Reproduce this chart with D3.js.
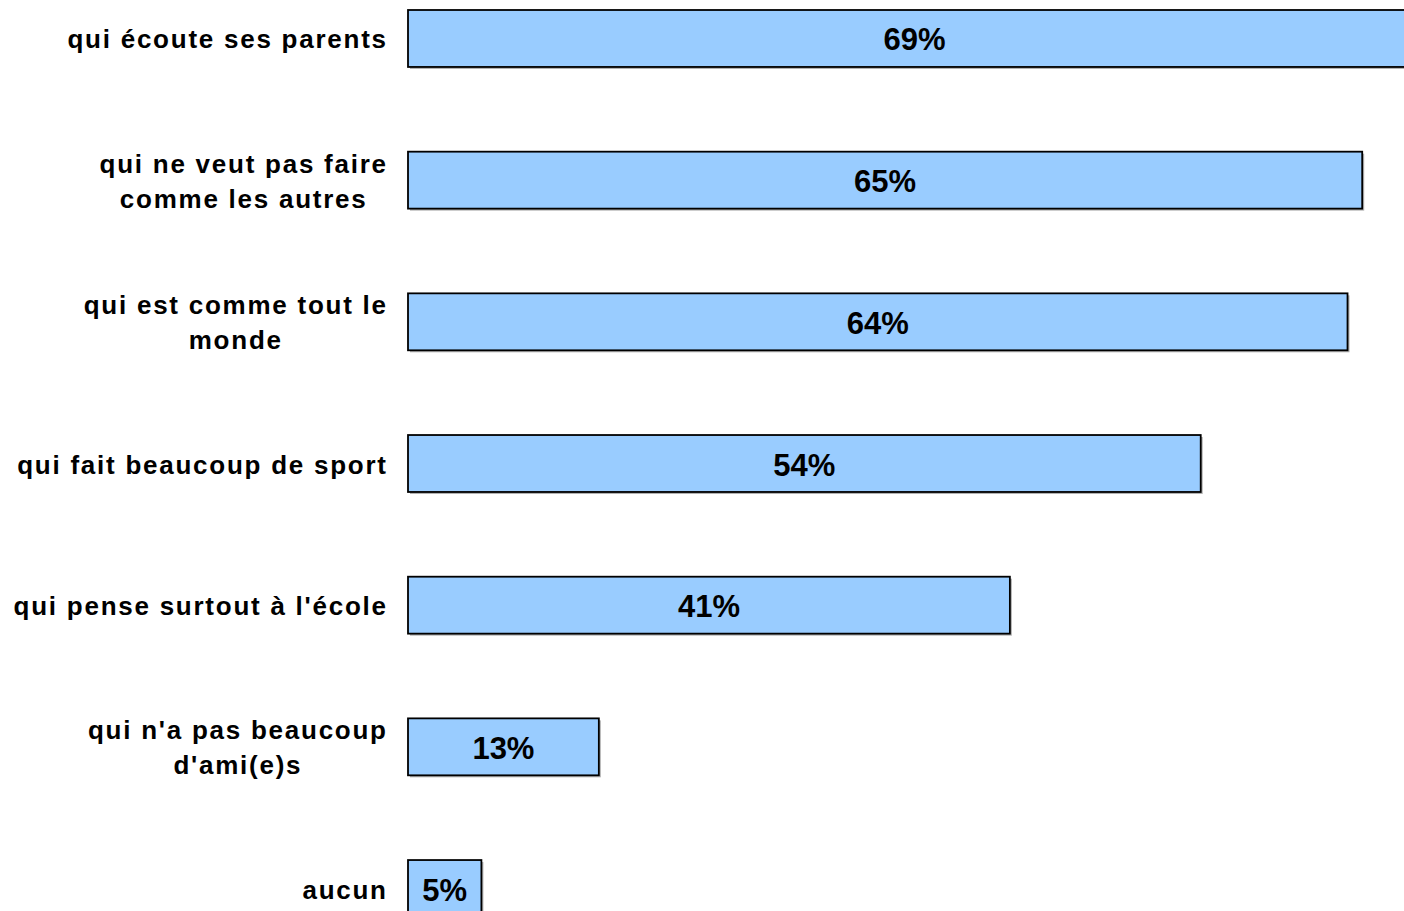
<html>
<head>
  <meta charset="utf-8">
  <title>Bar chart</title>
  <style>
    body{
      margin: 0;
      background: #fff;
      overflow: hidden;
    }
    text{
      font-family: "Liberation Sans", Arial, sans-serif;
      font-weight: bold;
      fill: #000;
    }
  </style>
  <script src="https://d3js.org/d3.v7.min.js"></script>
</head>
<body>
  <div id="container"></div>
  <script>
    //*******DATA*******
    const categories = [
      ["qui écoute ses parents"],
      ["qui ne veut pas faire", "comme les autres"],
      ["qui est comme tout le", "monde"],
      ["qui fait beaucoup de sport"],
      ["qui pense surtout à l'école"],
      ["qui n'a pas beaucoup", "d'ami(e)s"],
      ["aucun"]
    ];
    const values = [69, 65, 64, 54, 41, 13, 5];

    //*******CONSTANTS*******
    const width = 1404,
          height = 911;
    const labelRight = 386,
          letterSpace = 1.75,
          lineGap = 35;

    var svg = d3.select("#container")
      .append("svg")
      .attr("width", width)
      .attr("height", height)
      .style("display", "block");

    var keys = categories.map(function(c){ return c.join(" "); });

    // x: 0% sits at 408px, ~14.68px per percent
    var x = d3.scaleLinear()
      .domain([0, 100])
      .range([408, 1876]);

    var y = d3.scaleBand()
      .domain(keys)
      .range([10, 917])
      .paddingInner(0.598)
      .paddingOuter(0);

    var rows = svg.selectAll("g.row")
      .data(values)
      .enter()
      .append("g")
      .attr("class", "row");

    // light shadow behind each bar
    rows.append("rect")
      .attr("x", x(0) + 2)
      .attr("y", function(d, i){ return y(keys[i]) + 2; })
      .attr("width", function(d){ return x(d) - x(0); })
      .attr("height", y.bandwidth())
      .attr("fill", "#b0b0b0");

    rows.append("rect")
      .attr("x", x(0))
      .attr("y", function(d, i){ return y(keys[i]); })
      .attr("width", function(d){ return x(d) - x(0); })
      .attr("height", y.bandwidth())
      .attr("fill", "#99ccff")
      .attr("stroke", "#000")
      .attr("stroke-width", 1.8);

    // value labels in the middle of the bar
    rows.append("text")
      .attr("x", function(d){ return (x(0) + x(d)) / 2; })
      .attr("y", function(d, i){ return y(keys[i]) + y.bandwidth() / 2 + 12; })
      .attr("text-anchor", "middle")
      .attr("font-size", 31)
      .text(function(d){ return d + "%"; });

    // category labels: lines centred together, block right-aligned
    categories.forEach(function(lines, i){
      var cy = y(keys[i]) + y.bandwidth() / 2;
      var g = svg.append("g");
      var texts = lines.map(function(line, j){
        return g.append("text")
          .attr("font-size", 26)
          .attr("letter-spacing", letterSpace)
          .attr("text-anchor", "middle")
          .attr("y", cy + 10 + (j - (lines.length - 1) / 2) * lineGap)
          .text(line);
      });
      var maxW = d3.max(texts, function(t){ return t.node().getComputedTextLength(); });
      var cx = labelRight + letterSpace - maxW / 2;
      texts.forEach(function(t){ t.attr("x", cx); });
    });
  </script>
</body>
</html>
